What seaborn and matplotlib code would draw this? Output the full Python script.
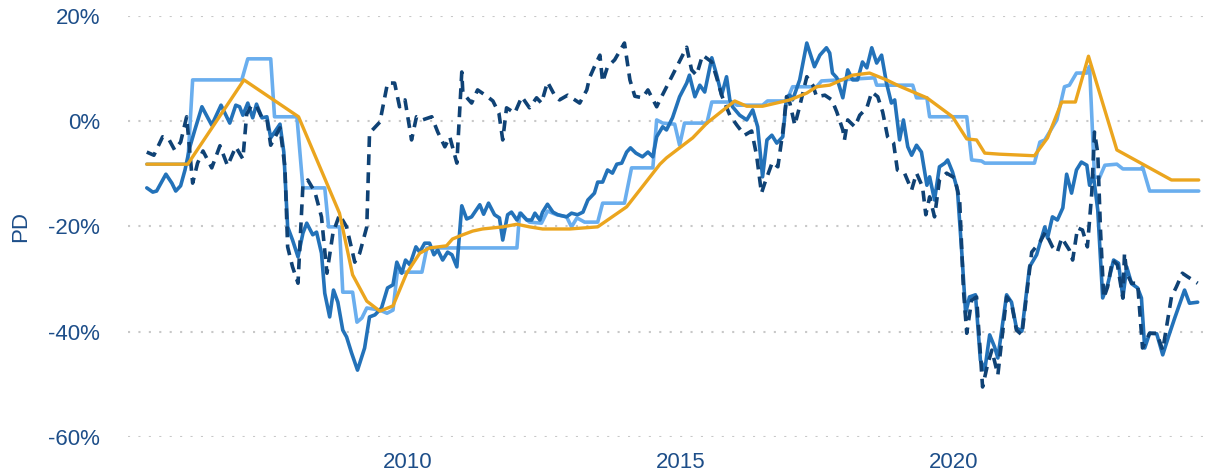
import numpy as np
import pandas as pd
import matplotlib
matplotlib.use("Agg")
import matplotlib.pyplot as plt
import seaborn as sns

# series (x in decimal years, y in percent)
solid_years = [2005.22, 2005.33, 2005.40, 2005.57, 2005.68, 2005.75, 2005.84, 2005.92, 2006.01, 2006.10,
               2006.23, 2006.41, 2006.58, 2006.74, 2006.85, 2006.92, 2006.98, 2007.07, 2007.16, 2007.23,
               2007.33, 2007.42, 2007.49, 2007.66, 2007.73, 2007.80, 2007.89, 2007.99, 2008.08, 2008.15,
               2008.26, 2008.33, 2008.42, 2008.48, 2008.57, 2008.64, 2008.72, 2008.81, 2008.88, 2008.97,
               2009.08, 2009.21, 2009.30, 2009.40, 2009.52, 2009.63, 2009.73, 2009.80, 2009.89, 2009.96,
               2010.04, 2010.15, 2010.22, 2010.31, 2010.40, 2010.48, 2010.55, 2010.64, 2010.73, 2010.81,
               2010.90, 2010.99, 2011.08, 2011.17, 2011.32, 2011.39, 2011.48, 2011.59, 2011.68, 2011.74,
               2011.83, 2011.90, 2012.00, 2012.07, 2012.18, 2012.27, 2012.33, 2012.42, 2012.47, 2012.56,
               2012.66, 2012.75, 2012.91, 2013.00, 2013.11, 2013.21, 2013.30, 2013.42, 2013.48, 2013.57,
               2013.66, 2013.75, 2013.83, 2013.92, 2014.01, 2014.08, 2014.18, 2014.30, 2014.40, 2014.49,
               2014.56, 2014.67, 2014.74, 2014.85, 2014.98, 2015.11, 2015.16, 2015.26, 2015.35, 2015.44,
               2015.57, 2015.66, 2015.75, 2015.84, 2015.90, 2015.95, 2016.08, 2016.21, 2016.32, 2016.41,
               2016.50, 2016.58, 2016.67, 2016.76, 2016.87, 2016.94, 2017.00, 2017.05, 2017.18, 2017.31,
               2017.45, 2017.55, 2017.67, 2017.73, 2017.78, 2017.86, 2017.97, 2018.06, 2018.15, 2018.24,
               2018.33, 2018.41, 2018.50, 2018.59, 2018.68, 2018.77, 2018.86, 2018.92, 2019.01, 2019.08,
               2019.16, 2019.23, 2019.32, 2019.41, 2019.51, 2019.56, 2019.65, 2019.74, 2019.84, 2019.89,
               2019.98, 2020.07, 2020.15, 2020.22, 2020.29, 2020.40, 2020.49, 2020.57, 2020.66, 2020.75,
               2020.81, 2020.97, 2021.06, 2021.15, 2021.25, 2021.39, 2021.52, 2021.67, 2021.72, 2021.81,
               2021.90, 2022.00, 2022.07, 2022.16, 2022.25, 2022.34, 2022.44, 2022.49, 2022.56, 2022.64,
               2022.73, 2022.82, 2022.93, 2023.02, 2023.10, 2023.17, 2023.26, 2023.37, 2023.44, 2023.50,
               2023.59, 2023.72, 2023.83, 2023.94, 2024.05, 2024.23, 2024.32, 2024.47]
solid_pd = [-12.7, -13.5, -13.3, -10.1, -11.8, -13.3, -12.3, -9.3, -4.9, -1.7,
            2.7, -0.8, 3.0, -0.4, 3.0, 2.7, 1.1, 3.4, 0.6, 3.2,
            0.6, 0.8, -3.2, -0.6, -5.9, -20.1, -22.6, -25.8, -21.3, -19.4,
            -21.6, -21.1, -25.1, -32.7, -37.2, -32.1, -34.4, -39.7, -41.0, -44.0,
            -47.3, -43.1, -37.2, -36.8, -35.5, -31.7, -31.1, -26.8, -28.9, -26.4,
            -27.3, -23.9, -24.9, -23.2, -23.2, -25.4, -24.5, -26.4, -24.9, -25.4,
            -27.7, -16.1, -18.6, -18.2, -15.9, -17.7, -15.6, -17.8, -18.4, -22.6,
            -17.8, -17.3, -18.8, -17.5, -18.8, -18.8, -17.5, -18.8, -17.3, -15.8,
            -17.3, -17.8, -18.2, -17.5, -17.8, -17.3, -15.0, -13.7, -11.6, -11.6,
            -9.3, -9.9, -8.2, -8.0, -5.9, -5.1, -6.1, -6.8, -5.9, -6.8,
            -3.0, -1.1, -1.7, 0.6, 4.6, 7.2, 8.7, 4.6, 6.8, 5.5,
            12.0, 8.7, 4.9, 8.4, 4.0, 2.7, 1.1, 0.2, 2.1, -1.1,
            -10.6, -3.6, -2.7, -4.2, -3.0, 4.6, 4.9, 4.0, 7.8, 14.8,
            10.3, 12.5, 13.9, 12.9, 9.1, 8.2, 4.4, 9.7, 7.8, 7.8,
            11.2, 10.1, 13.9, 11.0, 12.5, 7.2, 3.4, 4.0, -3.6, 0.2,
            -4.9, -6.5, -4.6, -5.9, -12.2, -10.6, -15.0, -8.7, -8.0, -7.4,
            -9.7, -13.1, -25.1, -36.5, -33.4, -33.0, -45.4, -47.3, -40.6, -42.9,
            -45.0, -33.0, -34.4, -39.3, -39.9, -27.7, -25.4, -20.1, -22.2, -18.2,
            -18.8, -16.5, -10.1, -13.7, -9.3, -7.8, -8.4, -12.2, -10.3, -16.9,
            -33.6, -31.1, -26.4, -27.0, -33.6, -27.7, -30.9, -31.7, -33.6, -43.1,
            -40.3, -40.4, -44.4, -40.8, -37.4, -32.1, -34.6, -34.4]

dashed_years = [2005.22, 2005.35, 2005.51, 2005.62, 2005.73, 2005.84, 2005.95, 2006.06, 2006.15, 2006.25,
                2006.41, 2006.56, 2006.70, 2006.85, 2006.98, 2007.05, 2007.14, 2007.23, 2007.33, 2007.42,
                2007.49, 2007.66, 2007.75, 2007.80, 2007.89, 2007.99, 2008.08, 2008.17, 2008.30, 2008.42,
                2008.52, 2008.63, 2008.75, 2008.88, 2009.03, 2009.12, 2009.25, 2009.30, 2009.49, 2009.63,
                2009.76, 2009.85, 2009.95, 2010.07, 2010.16, 2010.27, 2010.44, 2010.55, 2010.68, 2010.77,
                2010.90, 2010.99, 2011.01, 2011.17, 2011.28, 2011.45, 2011.56, 2011.67, 2011.74, 2011.81,
                2011.96, 2012.09, 2012.23, 2012.36, 2012.45, 2012.56, 2012.69, 2012.78, 2012.93, 2013.15,
                2013.28, 2013.33, 2013.42, 2013.52, 2013.57, 2013.66, 2013.79, 2013.97, 2014.07, 2014.16,
                2014.30, 2014.40, 2014.56, 2014.62, 2014.93, 2015.11, 2015.20, 2015.29, 2015.40, 2015.57,
                2015.66, 2015.75, 2015.90, 2016.03, 2016.17, 2016.30, 2016.39, 2016.48, 2016.54, 2016.68,
                2016.78, 2016.87, 2016.94, 2017.00, 2017.09, 2017.18, 2017.31, 2017.42, 2017.49, 2017.64,
                2017.77, 2017.86, 2017.97, 2018.00, 2018.06, 2018.19, 2018.28, 2018.41, 2018.50, 2018.61,
                2018.70, 2018.79, 2018.90, 2018.97, 2019.10, 2019.23, 2019.32, 2019.43, 2019.49, 2019.56,
                2019.65, 2019.74, 2019.87, 2020.02, 2020.11, 2020.18, 2020.24, 2020.33, 2020.42, 2020.53,
                2020.62, 2020.70, 2020.81, 2020.97, 2021.06, 2021.15, 2021.25, 2021.43, 2021.58, 2021.68,
                2021.81, 2021.90, 2021.98, 2022.12, 2022.18, 2022.27, 2022.36, 2022.45, 2022.53, 2022.58,
                2022.64, 2022.69, 2022.75, 2022.82, 2022.91, 2023.00, 2023.10, 2023.13, 2023.17, 2023.26,
                2023.37, 2023.46, 2023.59, 2023.72, 2023.83, 2023.99, 2024.08, 2024.19, 2024.29, 2024.47]
dashed_pd = [-5.9, -6.5, -3.0, -3.4, -5.5, -4.0, 0.8, -11.8, -8.0, -5.7,
             -8.9, -4.7, -8.5, -4.9, -7.2, 1.3, 3.0, 2.8, 0.6, 0.4,
             -4.6, -1.3, -8.7, -23.9, -27.7, -30.8, -12.2, -11.2, -13.5, -18.2,
             -28.9, -21.3, -17.8, -20.1, -26.8, -25.1, -20.1, -2.3, -0.2, 7.2,
             7.2, 2.7, 4.0, -3.6, 0.8, 0.2, 0.8, -2.1, -4.9, -3.0,
             -8.0, 9.3, 5.3, 3.4, 5.9, 4.7, 3.8, 1.5, -3.6, 2.5,
             1.5, 4.6, 2.5, 4.4, 3.4, 7.4, 4.9, 4.0, 4.9, 3.4,
             5.9, 8.2, 10.3, 12.5, 7.4, 10.3, 11.6, 14.8, 7.8, 4.7,
             4.4, 5.9, 2.7, 4.0, 10.3, 14.0, 9.7, 8.7, 12.5, 11.2,
             8.2, 4.9, 1.1, -0.8, -2.7, -1.9, -6.5, -13.7, -11.8, -7.8,
             -8.7, -2.1, 4.6, 3.4, -0.8, 2.8, 8.4, 6.8, 4.6, 4.9,
             4.0, 1.7, -1.7, -3.6, 0.2, -1.1, 1.1, 2.5, 5.5, 4.6,
             1.7, -3.0, -4.2, -9.3, -9.9, -13.1, -9.9, -12.5, -17.8, -14.4,
             -18.2, -11.2, -9.9, -10.8, -15.0, -32.1, -40.3, -34.0, -33.4, -50.5,
             -46.3, -43.5, -48.2, -33.4, -34.6, -39.7, -40.6, -24.9, -23.0, -21.1,
             -23.9, -24.9, -22.2, -24.5, -26.4, -20.3, -20.7, -23.9, -13.7, -2.1,
             -6.1, -20.7, -33.6, -31.5, -26.4, -27.3, -33.6, -25.1, -28.9, -30.8,
             -30.8, -43.1, -40.3, -40.3, -43.5, -33.4, -31.5, -28.9, -29.6, -30.8]

light_years = [2005.22, 2005.97, 2006.06, 2006.96, 2007.07, 2007.49, 2007.56, 2007.97, 2008.08, 2008.48,
               2008.55, 2008.75, 2008.81, 2008.99, 2009.07, 2009.16, 2009.25, 2009.49, 2009.62, 2009.73,
               2009.82, 2009.85, 2010.26, 2010.35, 2012.00, 2012.05, 2012.23, 2012.45, 2012.56, 2012.73,
               2012.91, 2013.00, 2013.10, 2013.24, 2013.48, 2013.57, 2013.97, 2014.10, 2014.49, 2014.56,
               2014.67, 2014.89, 2014.98, 2015.07, 2015.48, 2015.57, 2015.95, 2016.03, 2016.50, 2016.59,
               2016.94, 2017.05, 2017.49, 2017.58, 2018.55, 2018.59, 2019.25, 2019.32, 2019.51, 2019.56,
               2020.24, 2020.33, 2020.51, 2020.57, 2021.48, 2021.58, 2021.67, 2021.89, 2022.03, 2022.12,
               2022.25, 2022.44, 2022.49, 2022.58, 2022.67, 2022.77, 2022.99, 2023.10, 2023.44, 2023.46,
               2023.59, 2024.49]
light_pd = [-8.2, -8.2, 7.8, 7.8, 11.8, 11.8, 0.8, 0.8, -12.7, -12.7,
            -20.1, -20.1, -32.5, -32.5, -38.2, -37.4, -35.5, -35.9, -36.5, -35.9,
            -27.7, -28.7, -28.7, -24.1, -24.1, -17.5, -19.2, -19.4, -17.1, -17.8,
            -18.2, -20.1, -18.4, -19.2, -19.2, -15.6, -15.6, -8.9, -8.9, 0.2,
            -0.4, -0.6, -4.6, -0.4, -0.4, 3.6, 3.6, 3.0, 3.0, 3.8,
            3.8, 6.5, 6.5, 7.6, 8.2, 6.8, 6.8, 4.4, 4.4, 0.8,
            0.8, -7.4, -7.6, -8.0, -8.0, -4.0, -3.6, 0.2, 6.5, 6.8,
            9.1, 9.1, 10.4, -10.6, -10.8, -8.4, -8.2, -9.1, -9.1, -8.7,
            -13.3, -13.3]

orange_years = [2005.22, 2005.97, 2007.00, 2008.00, 2008.75, 2008.99, 2009.25, 2009.49, 2009.73, 2009.98,
                2010.22, 2010.40, 2010.71, 2010.82, 2011.01, 2011.19, 2011.37, 2011.74, 2012.00, 2012.23,
                2012.47, 2012.97, 2013.48, 2014.01, 2014.62, 2014.74, 2014.98, 2015.22, 2015.48, 2015.71,
                2015.99, 2016.21, 2016.50, 2017.00, 2017.31, 2017.49, 2017.73, 2018.15, 2018.46, 2018.77,
                2019.01, 2019.51, 2019.98, 2020.24, 2020.42, 2020.57, 2020.84, 2021.48, 2021.72, 2021.98,
                2022.23, 2022.47, 2022.99, 2023.99, 2024.49]
orange_pd = [-8.2, -8.2, 7.8, 0.8, -17.5, -29.2, -34.2, -36.1, -35.1, -28.9,
             -25.1, -24.1, -23.7, -22.4, -21.6, -20.9, -20.5, -20.1, -19.6, -20.1,
             -20.5, -20.5, -20.1, -16.3, -8.2, -7.0, -5.1, -3.2, -0.4, 1.5,
             3.8, 2.8, 2.8, 4.0, 5.3, 6.5, 6.8, 8.7, 9.1, 7.8,
             6.6, 4.4, 0.8, -3.4, -3.6, -6.1, -6.3, -6.6, -3.2, 3.6,
             3.6, 12.3, -5.5, -11.2, -11.2]

year_ticks = [2010, 2015, 2020]
pd_ticks = [20, 0, -20, -40, -60]

TEXT = "#1d4e89"
C_SOLID = "#2372b9"
C_LIGHT = "#6aaeee"
C_DASH = "#0f4275"
C_ORANGE = "#eba51e"

sns.set_theme(style="white")
plt.rcParams["font.family"] = ["Liberation Sans", "DejaVu Sans"]

fig = plt.figure(figsize=(12.16, 4.74), dpi=100)
ax = fig.add_axes([0.105, 0.078, 0.888, 0.889])

sns.lineplot(x=light_years, y=light_pd, ax=ax, color=C_LIGHT, lw=2.6, sort=False, estimator=None)
sns.lineplot(x=solid_years, y=solid_pd, ax=ax, color=C_SOLID, lw=2.6, sort=False, estimator=None)
sns.lineplot(x=dashed_years, y=dashed_pd, ax=ax, color=C_DASH, lw=2.6, sort=False, estimator=None)
ax.lines[-1].set_linestyle((0, (3, 2)))
sns.lineplot(x=orange_years, y=orange_pd, ax=ax, color=C_ORANGE, lw=2.4, sort=False, estimator=None)

ax.set_xlim(2004.87, 2024.65)
ax.set_ylim(-60, 20)
ax.set_xticks(year_ticks)
ax.set_xticklabels([str(y) for y in year_ticks])
ax.set_yticks(pd_ticks)
ax.set_yticklabels([f"{v}%" for v in pd_ticks])
ax.tick_params(axis="both", length=0, labelsize=16, labelcolor=TEXT)
ax.tick_params(axis="y", pad=20)
ax.tick_params(axis="x", pad=11)
ax.set_xlabel("")
ax.set_ylabel("PD", fontsize=16, color=TEXT, labelpad=12)

# dotted horizontal gridlines, no spines
ax.grid(False)
for v in pd_ticks:
    ax.axhline(v, color="#c8c8c8", lw=1.5, ls=(0, (1, 4)), zorder=0)
for s in ax.spines.values():
    s.set_visible(False)

fig.savefig("out.png", dpi=100)
